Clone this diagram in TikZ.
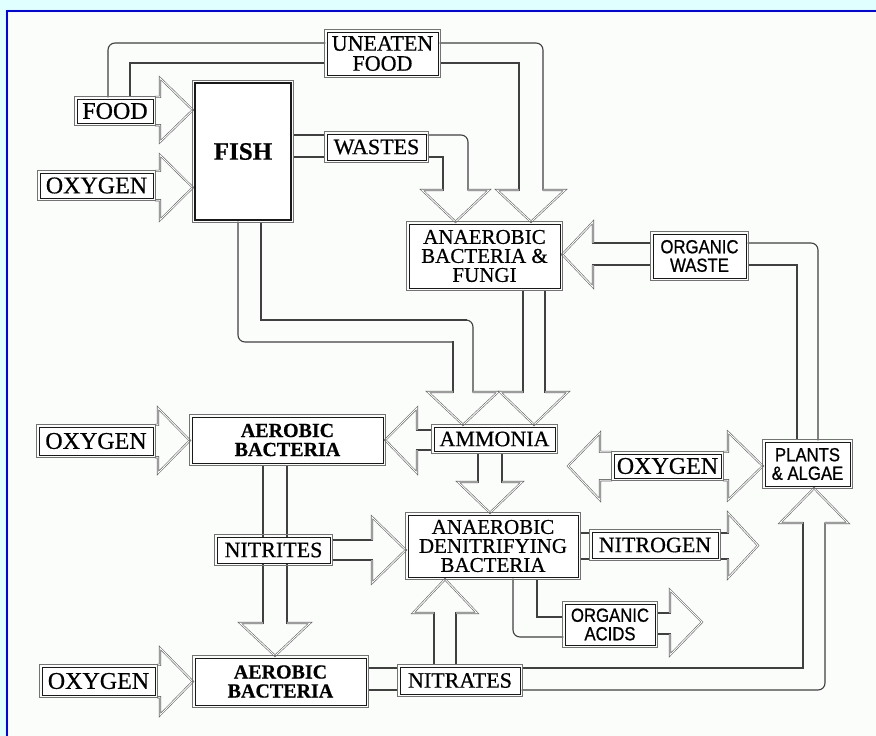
\documentclass[tikz,border=0pt]{standalone}
\usepackage{fontspec}
\setmainfont[FakeBold=0.6]{Liberation Serif}
\newfontfamily\nsans[FakeStretch=0.88,FakeBold=0.8]{Liberation Sans}
\pgfdeclarelayer{back}
\pgfdeclarelayer{bg}
\pgfsetlayers{back,bg,main}
\definecolor{frameblue}{RGB}{0,0,255}
\definecolor{outcyan}{RGB}{224,255,255}
\definecolor{paper}{RGB}{251,253,251}
\tikzset{
  box/.style={draw=black!90, line width=1pt, fill=white, inner sep=0pt,
    outer sep=2.2pt, align=center, text=black},
  outerb/.style={draw=black!55, line width=0.9pt},
  band/.style={draw=black!75, line width=1.1pt, line cap=rect},
  head/.style={draw=black!60, line width=0.6pt, double=white, double distance=0.9pt, line join=miter},
  serif/.style={font=\fontsize{22}{19}\selectfont},
  threeline/.style={font=\fontsize{21}{19}\selectfont},
  bigserif/.style={font=\fontsize{24}{20}\selectfont},
  aerob/.style={font=\fontsize{20}{19}\selectfont\bfseries},
  sansl/.style={font=\nsans\fontsize{19}{18.5}\selectfont},
}
\begin{document}
\begin{tikzpicture}[x=1pt,y=-1pt]
\useasboundingbox (0,0) rectangle (876,736);
\begin{pgfonlayer}{back}
  \fill[outcyan] (0,0) rectangle (876,736);
  \fill[paper] (7,11) rectangle (876,736);
  \draw[frameblue, line width=2.5pt] (7,736) -- (7,11) -- (876,11);
\end{pgfonlayer}

% ---------- nodes ----------
\node[box, font=\fontsize{22}{20}\selectfont, minimum width=111pt, minimum height=43pt] (uneaten) at (382.5,53.5) {UNEATEN\\FOOD};
\node[box, bigserif, minimum width=76pt, minimum height=24pt] (food) at (115,111) {FOOD};
\node[box, minimum width=96pt, minimum height=137pt, line width=1.6pt, font=\fontsize{25}{25}\selectfont\bfseries] (fish) at (243,151.5) {FISH};
\node[box, bigserif, minimum width=113pt, minimum height=25pt] (oxy1) at (96.5,185.5) {OXYGEN};
\node[box, serif, minimum width=99pt, minimum height=26pt] (wastes) at (376.5,147) {WASTES};
\node[box, threeline, minimum width=151pt, minimum height=64pt] (anafungi) at (484.5,256) {ANAEROBIC\\BACTERIA \&\\FUNGI};
\node[box, sansl, minimum width=93pt, minimum height=44pt] (orgwaste) at (699.5,256) {ORGANIC\\WASTE};
\node[box, bigserif, minimum width=114pt, minimum height=28pt] (oxy2) at (96,441) {OXYGEN};
\node[box, aerob, minimum width=191pt, minimum height=46pt] (aer1) at (287.5,440) {AEROBIC\\BACTERIA};
\node[box, serif, minimum width=121pt, minimum height=24pt] (ammonia) at (494.5,439) {AMMONIA};
\node[box, bigserif, minimum width=107pt, minimum height=24pt] (oxy3) at (667.5,466) {OXYGEN};
\node[box, sansl, minimum width=85pt, minimum height=44pt] (plants) at (807.5,464) {PLANTS\\\& ALGAE};
\node[box, serif, minimum width=113pt, minimum height=26pt] (nitrites) at (273.5,550) {NITRITES};
\node[box, threeline, minimum width=170pt, minimum height=62pt] (den) at (493,546) {ANAEROBIC\\DENITRIFYING\\BACTERIA};
\node[box, serif, minimum width=126pt, minimum height=26pt] (nitrogen) at (655,545) {NITROGEN};
\node[box, sansl, minimum width=90pt, minimum height=41pt] (acids) at (610,624.5) {ORGANIC\\ACIDS};
\node[box, bigserif, minimum width=113pt, minimum height=28pt] (oxy4) at (98.5,681) {OXYGEN};
\node[box, aerob, minimum width=171pt, minimum height=47pt] (aer2) at (280.5,681.5) {AEROBIC\\BACTERIA};
\node[box, serif, minimum width=120pt, minimum height=27pt] (nitrates) at (460,680.5) {NITRATES};

\foreach \n in {uneaten,food,fish,oxy1,wastes,anafungi,orgwaste,oxy2,aer1,ammonia,oxy3,plants,nitrites,den,nitrogen,acids,oxy4,aer2,nitrates}
  \draw[outerb] (\n.north west) rectangle (\n.south east);

\coordinate (n2tip) at (758,545.5);
\coordinate (actip) at (702,622);
\coordinate (o3tip) at (568,466);

% ---------- block arrows ----------
\begin{pgfonlayer}{bg}
% food -> uneaten food
\draw[band, rounded corners=7pt] (108,0 |- food.north) -- (108,43) -- (0,43 -| uneaten.west);
\draw[band] (130,0 |- food.north) -- (130,63) -- (0,63 -| uneaten.west);
% uneaten food -> anaerobic bacteria & fungi
\draw[band, rounded corners=7pt] (0,43 -| uneaten.east) -- (543,43) -- (543,190);
\draw[band] (0,63 -| uneaten.east) -- (519,63) -- (519,190);
\draw[head] (519,190) -- (497,190) -- (531,0 |- anafungi.north) -- (565,190) -- (543,190);
% fish -> wastes
\draw[band] (0,135 -| fish.east) -- (0,135 -| wastes.west);
\draw[band] (0,157 -| fish.east) -- (0,157 -| wastes.west);
% wastes -> anaerobic bacteria & fungi
\draw[band, rounded corners=7pt] (0,135 -| wastes.east) -- (468,135) -- (468,190);
\draw[band] (0,157 -| wastes.east) -- (443,157) -- (443,190);
\draw[head] (443,190) -- (422,190) -- (455.5,0 |- anafungi.north) -- (489,190) -- (468,190);
% food -> fish
\draw[head] (food.north east) -- (160,0 |- food.north) -- (160,78) -- (0,110 -| fish.west) -- (160,142) -- (160,0 |- food.south) -- (food.south east);
% oxygen -> fish
\draw[head] (oxy1.north east) -- (160,0 |- oxy1.north) -- (160,155) -- (0,187.5 -| fish.west) -- (160,220) -- (160,0 |- oxy1.south) -- (oxy1.south east);
% fish -> ammonia
\draw[band, rounded corners=7pt] (238,0 |- fish.south) -- (238,342) -- (453,342);
\draw[band] (453,342) -- (453,392);
\draw[band] (261,0 |- fish.south) -- (261,320) -- (466,320);
\draw[band, rounded corners=7pt] (460,320) -- (473,320) -- (473,392);
\draw[head] (453,392) -- (428,392) -- (463,0 |- ammonia.north) -- (498,392) -- (473,392);
% anaerobic bacteria & fungi -> ammonia
\draw[band] (523,0 |- anafungi.south) -- (523,392);
\draw[band] (545,0 |- anafungi.south) -- (545,392);
\draw[head] (523,392) -- (500,392) -- (534,0 |- ammonia.north) -- (568,392) -- (545,392);
% ammonia -> aerobic bacteria
\draw[band] (0,430 -| ammonia.west) -- (417,430);
\draw[band] (0,450 -| ammonia.west) -- (417,450);
\draw[head] (417,430) -- (417,408) -- (0,440 -| aer1.east) -- (417,473) -- (417,450);
% ammonia -> denitrifying bacteria
\draw[band] (478,0 |- ammonia.south) -- (478,482);
\draw[band] (502,0 |- ammonia.south) -- (502,482);
\draw[head] (478,482) -- (458,482) -- (490,0 |- den.north) -- (522,482) -- (502,482);
% oxygen -> aerobic bacteria (middle)
\draw[head] (oxy2.north east) -- (158,0 |- oxy2.north) -- (158,408) -- (0,440.5 -| aer1.west) -- (158,473) -- (158,0 |- oxy2.south) -- (oxy2.south east);
% aerobic bacteria -> nitrites -> aerobic bacteria
\draw[band] (263,0 |- aer1.south) -- (263,623);
\draw[band] (287,0 |- aer1.south) -- (287,623);
\draw[head] (263,623) -- (240,623) -- (275,0 |- aer2.north) -- (310,623) -- (287,623);
% nitrites -> denitrifying bacteria
\draw[band] (0,540 -| nitrites.east) -- (372,540);
\draw[band] (0,560 -| nitrites.east) -- (372,560);
\draw[head] (372,540) -- (372,517) -- (0,550 -| den.west) -- (372,583) -- (372,560);
% oxygen -> aerobic bacteria (bottom)
\draw[head] (oxy4.north east) -- (160,0 |- oxy4.north) -- (160,648) -- (0,681.5 -| aer2.west) -- (160,715) -- (160,0 |- oxy4.south) -- (oxy4.south east);
% aerobic bacteria -> nitrates
\draw[band] (0,668 -| aer2.east) -- (0,668 -| nitrates.west);
\draw[band] (0,690 -| aer2.east) -- (0,690 -| nitrates.west);
% nitrates -> denitrifying bacteria
\draw[band] (434,0 |- nitrates.north) -- (434,613);
\draw[band] (456,0 |- nitrates.north) -- (456,613);
\draw[head] (434,613) -- (413,613) -- (445,0 |- den.south) -- (477,613) -- (456,613);
% nitrates -> plants & algae
\draw[band] (0,668 -| nitrates.east) -- (803,668) -- (803,523);
\draw[band, rounded corners=7pt] (0,690 -| nitrates.east) -- (825,690) -- (825,523);
\draw[head] (803,523) -- (780,523) -- (814,0 |- plants.south) -- (848,523) -- (825,523);
% denitrifying bacteria -> nitrogen
\draw[band] (0,533 -| den.east) -- (0,533 -| nitrogen.west);
\draw[band] (0,559 -| den.east) -- (0,559 -| nitrogen.west);
\draw[band] (0,533 -| nitrogen.east) -- (728,533);
\draw[band] (0,559 -| nitrogen.east) -- (728,559);
\draw[head] (728,533) -- (728,513) -- (n2tip) -- (728,578) -- (728,559);
% denitrifying bacteria -> organic acids
\draw[band] (537,0 |- den.south) -- (537,617) -- (0,617 -| acids.west);
\draw[band, rounded corners=7pt] (513,0 |- den.south) -- (513,637) -- (0,637 -| acids.west);
\draw[band] (0,613 -| acids.east) -- (670,613);
\draw[band] (0,634 -| acids.east) -- (670,634);
\draw[head] (670,613) -- (670,590) -- (actip) -- (670,655) -- (670,634);
% oxygen <-> plants & algae
\draw[head] (oxy3.north west) -- (600,0 |- oxy3.north) -- (600,433) -- (o3tip) -- (600,500) -- (600,0 |- oxy3.south) -- (oxy3.south west);
\draw[head] (oxy3.north east) -- (728,0 |- oxy3.north) -- (728,432) -- (0,466 -| plants.west) -- (728,500) -- (728,0 |- oxy3.south) -- (oxy3.south east);
% plants & algae -> organic waste
\draw[band] (797,0 |- plants.north) -- (797,265) -- (0,265 -| orgwaste.east);
\draw[band, rounded corners=7pt] (818,0 |- plants.north) -- (818,243) -- (0,243 -| orgwaste.east);
% organic waste -> anaerobic bacteria & fungi
\draw[band] (0,243 -| orgwaste.west) -- (593,243);
\draw[band] (0,265 -| orgwaste.west) -- (593,265);
\draw[head] (593,243) -- (593,222) -- (0,254.5 -| anafungi.east) -- (593,287) -- (593,265);
\end{pgfonlayer}
\end{tikzpicture}
\end{document}
